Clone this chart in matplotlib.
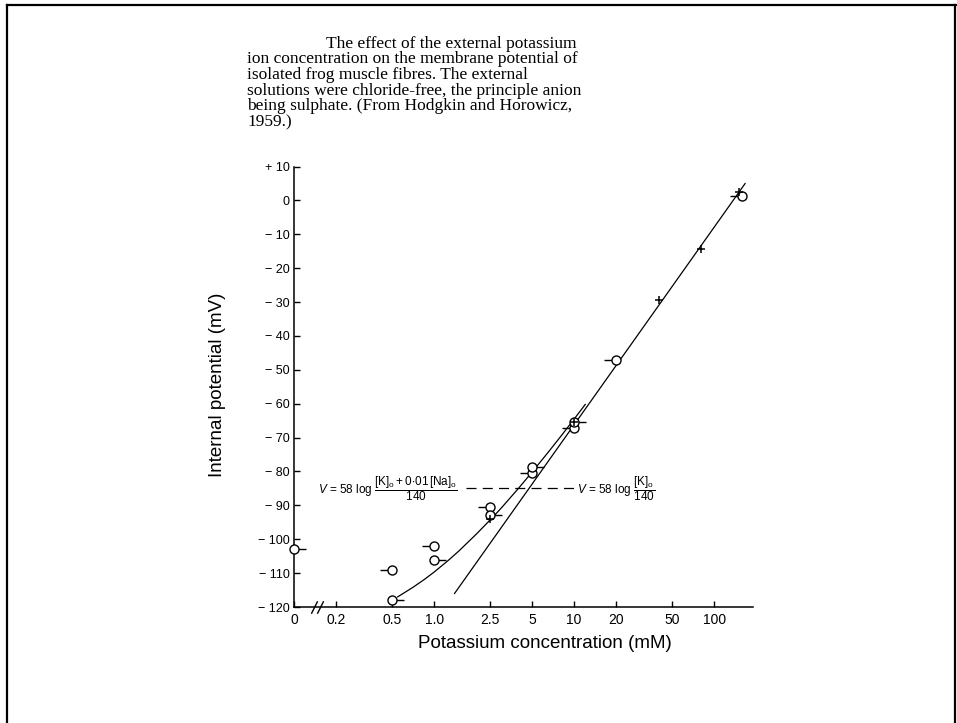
import numpy as np
import matplotlib.pyplot as plt
from matplotlib.lines import Line2D

"""Hodgkin & Horowitz (1959): membrane potential vs external K+"""

plt.rcParams['font.family'] = ['Liberation Sans', 'DejaVu Sans']
plt.rcParams['mathtext.fontset'] = 'custom'
plt.rcParams['mathtext.rm'] = 'Liberation Sans'
plt.rcParams['mathtext.it'] = 'Liberation Sans:italic'

# data (K in mM, V in mV); K = 0 is drawn at the "0" position
ZERO_POS = 0.1
circ_left_k = [0.5, 1.0, 2.5, 5, 10, 20, 158]
circ_left_v = [-109, -102, -90.6, -80.3, -67.2, -47.2, 1.4]
circ_right_k = [0, 0.5, 1.0, 2.5, 5, 10]
circ_right_v = [-102.9, -118, -106, -92.8, -78.6, -65.5]
cross_k = [2.5, 10, 40, 80, 150]
cross_v = [-94, -65.5, -29.4, -14.4, 2.5]

# theoretical lines
nernst_k = [1.4, 166]
nernst_v = [-116, 5]
curve_k = [0.55, 0.7, 0.85, 1.0, 1.25, 1.5, 2.0, 2.5, 3.0, 4.0, 5.0, 6.5, 8.0, 10.0, 12.0]
curve_v = [-117, -114.3, -111.9, -109.7, -106.4, -103.5, -98.5, -94.4, -90.9, -85.0,
           -80.2, -74.4, -69.7, -64.5, -60.2]
dash_k = [1.7, 10.1]
dash_v = -85

xticks = [ZERO_POS, 0.2, 0.5, 1, 2.5, 5, 10, 20, 50, 100]
xticklabels = ['0', '0.2', '0.5', '1.0', '2.5', '5', '10', '20', '50', '100']
yticks = list(range(-120, 11, 10))
yticklabels = ['+ 10' if t > 0 else ('0' if t == 0 else '\u2212 %d' % -t) for t in yticks]
break_k = [0.138, 0.153]

caption = ['The effect of the external potassium',
           'ion concentration on the membrane potential of',
           'isolated frog muscle fibres. The external',
           'solutions were chloride-free, the principle anion',
           'being sulphate. (From Hodgkin and Horowicz,',
           '1959.)']


def kpos(k):
    k = np.asarray(k, dtype=float)
    return np.where(k == 0, ZERO_POS, k)


fig = plt.figure(figsize=(9.57, 7.23), dpi=100)
W, H = 957.0, 723.0
ax = fig.add_axes([294 / W, 1 - 607 / H, (753 - 294) / W, (607 - 166.6) / H])
ax.set_xscale('log')
ax.set_xlim(ZERO_POS, 189)
ax.set_ylim(-120, 10)

ax.plot(nernst_k, nernst_v, color='k', lw=0.9)
ax.plot(curve_k, curve_v, color='k', lw=0.9)
ax.plot(dash_k, [dash_v, dash_v], color='k', lw=0.9, dashes=(8, 5))

left_dash = [(0, 0), (-1, 0)]
right_dash = [(0, 0), (1, 0)]
ax.plot(kpos(circ_left_k), circ_left_v, ls='none', marker=left_dash, ms=17,
        mew=1, color='k', zorder=3, clip_on=False)
ax.plot(kpos(circ_right_k), circ_right_v, ls='none', marker=right_dash, ms=17,
        mew=1, color='k', zorder=3, clip_on=False)
ax.plot(kpos(circ_left_k + circ_right_k), circ_left_v + circ_right_v, ls='none',
        marker='o', ms=6.5, mfc='white', mec='k', mew=1, zorder=4, clip_on=False)
ax.plot(cross_k, cross_v, ls='none', marker='+', ms=6, mew=1.1, color='k', zorder=5)

# formulas
ax.text(0.148, -85, r'$V$ = 58 log $\dfrac{[\mathrm{K}]_\mathrm{o}+0{\cdot}01\,[\mathrm{Na}]_\mathrm{o}}{140}$',
        fontsize=8.5, va='center', ha='left')
ax.text(10.5, -85, r'$V$ = 58 log $\dfrac{[\mathrm{K}]_\mathrm{o}}{140}$',
        fontsize=8.5, va='center', ha='left')

# axes styling
for s in ['top', 'right']:
    ax.spines[s].set_visible(False)
for s in ['left', 'bottom']:
    ax.spines[s].set_linewidth(1.1)
ax.set_xticks(xticks)
ax.set_xticklabels(xticklabels, fontsize=10)
ax.minorticks_off()
ax.set_yticks(yticks)
ax.set_yticklabels(yticklabels, fontsize=9)
ax.tick_params(direction='in', length=4.5, width=1, pad=4)
ax.tick_params(axis='y', pad=3)

# axis break on the x axis
ax.plot(break_k, [-120, -120], ls='none', marker=[(-1, -2), (1, 2)], ms=9, mew=1,
        color='k', clip_on=False, zorder=6)

fig.text(217 / W, 1 - 385 / H, 'Internal potential (mV)', rotation=90, fontsize=13.5,
         ha='center', va='center')
fig.text(545 / W, 1 - 643 / H, 'Potassium concentration (mM)', fontsize=13.5,
         ha='center', va='center')

# caption
for i, line in enumerate(caption):
    x = 326 if i == 0 else 247
    fig.text(x / W, 1 - (47.5 + 15.7 * i) / H, line, family='Liberation Serif',
             fontsize=12.5, ha='left', va='baseline')

# page frame
fig.add_artist(Line2D([7.5 / W, 7.5 / W], [0, 1 - 5 / H], color='k', lw=1.6))
fig.add_artist(Line2D([7.5 / W, 1], [1 - 5 / H, 1 - 5 / H], color='k', lw=1.6))
fig.add_artist(Line2D([954.5 / W, 954.5 / W], [0, 1 - 5 / H], color='k', lw=1.6))

fig.savefig('out.png', dpi=100)
